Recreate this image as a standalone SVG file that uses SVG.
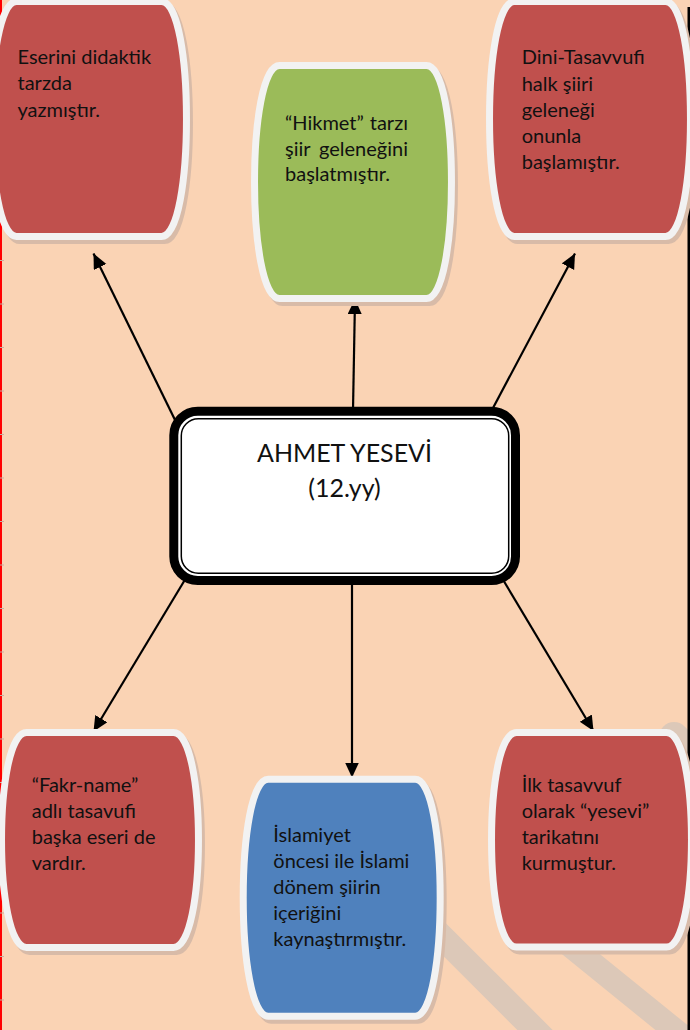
<svg xmlns="http://www.w3.org/2000/svg" width="690" height="1030" viewBox="0 0 690 1030">
  <style>
    .bg { fill: #FAD3B4; }
    .band { stroke: #DCC8B8; fill: none; stroke-linecap: round; }
    .shadow { fill: #D8BBA8; stroke: #D8BBA8; stroke-width: 7; }
    .red { fill: #C0504D; stroke: #F2F2F2; stroke-width: 7; }
    .green { fill: #9BBB59; stroke: #F2F2F2; stroke-width: 7; }
    .blue { fill: #4F81BD; stroke: #F2F2F2; stroke-width: 7; }
    .t { font-family: Lato, "Liberation Sans", "DejaVu Sans", sans-serif; font-size: 20px; fill: #111111; }
    .tc { font-family: Lato, "Liberation Sans", "DejaVu Sans", sans-serif; font-size: 25px; fill: #111111; text-anchor: middle; }
    .conn { stroke: #000000; stroke-width: 2.2; fill: none; marker-end: url(#arrow); }
  </style>
  <defs>
    <marker id="arrow" markerUnits="userSpaceOnUse" markerWidth="16" markerHeight="16" refX="15" refY="7" orient="auto">
      <path d="M0,0 L15,7 L0,14 Z" fill="#000000"/>
    </marker>
  </defs>

  <!-- background -->
  <rect class="bg" x="0" y="0" width="690" height="1030"/>
  <line class="band" x1="400" y1="895" x2="585" y2="1080" stroke-width="25"/>
  <line class="band" x1="545" y1="925" x2="730" y2="1075" stroke-width="24"/>
  <line class="band" x1="674" y1="737" x2="740" y2="803" stroke-width="30"/>
  <rect x="0" y="0" width="2" height="1030" fill="#FF0000"/>
  <line x1="2" y1="260" x2="2" y2="1030" stroke="#C8B0A0" stroke-width="4" stroke-dasharray="1 42.5"/>
  <rect x="687.5" y="7" width="2.5" height="1023" fill="#000000"/>

  <!-- connectors -->
  <g id="connectors">
    <line class="conn" x1="353" y1="410" x2="355" y2="299"/>
    <line class="conn" x1="177" y1="424" x2="93.5" y2="253.5"/>
    <line class="conn" x1="493" y1="408" x2="575" y2="253.5"/>
    <line class="conn" x1="186" y1="578" x2="93.5" y2="731.5"/>
    <line class="conn" x1="352" y1="583" x2="352" y2="777.5"/>
    <line class="conn" x1="502" y1="578" x2="593.5" y2="731"/>
  </g>

  <!-- top-left node -->
  <g id="node-didaktik">
    <path class="shadow" transform="translate(3,4)" d="M 16.5,1.5 H 161.5 C 194.8,1.5 194.8,236.5 161.5,236.5 H 16.5 C -16.8,236.5 -16.8,1.5 16.5,1.5 Z"/>
    <path class="red" d="M 16.5,1.5 H 161.5 C 194.8,1.5 194.8,236.5 161.5,236.5 H 16.5 C -16.8,236.5 -16.8,1.5 16.5,1.5 Z"/>
    <text class="t" x="17.5" y="63.5">Eserini didaktik</text>
    <text class="t" x="17.5" y="90">tarzda</text>
    <text class="t" x="17.5" y="116.5">yazmıştır.</text>
  </g>

  <!-- top-middle node -->
  <g id="node-hikmet">
    <path class="shadow" transform="translate(3,4)" d="M 279.5,65.5 H 426.5 C 459.8,65.5 459.8,298.5 426.5,298.5 H 279.5 C 246.2,298.5 246.2,65.5 279.5,65.5 Z"/>
    <path class="green" d="M 279.5,65.5 H 426.5 C 459.8,65.5 459.8,298.5 426.5,298.5 H 279.5 C 246.2,298.5 246.2,65.5 279.5,65.5 Z"/>
    <text class="t" x="285" y="129.5">“Hikmet”</text>
    <text class="t" x="408" y="129.5" text-anchor="end">tarzı</text>
    <text class="t" x="285" y="155.5">şiir</text>
    <text class="t" x="408" y="155.5" text-anchor="end">geleneğini</text>
    <text class="t" x="285" y="181">başlatmıştır.</text>
  </g>

  <!-- top-right node -->
  <g id="node-dini">
    <path class="shadow" transform="translate(3,4)" d="M 514.5,1.5 H 665.5 C 698.8,1.5 698.8,236.5 665.5,236.5 H 514.5 C 481.2,236.5 481.2,1.5 514.5,1.5 Z"/>
    <path class="red" d="M 514.5,1.5 H 665.5 C 698.8,1.5 698.8,236.5 665.5,236.5 H 514.5 C 481.2,236.5 481.2,1.5 514.5,1.5 Z"/>
    <text class="t" x="521.7" y="64.3">Dini-Tasavvufi</text>
    <text class="t" x="521.7" y="90.7">halk şiiri</text>
    <text class="t" x="521.7" y="116.7">geleneği</text>
    <text class="t" x="521.7" y="142.7">onunla</text>
    <text class="t" x="521.7" y="168.5">başlamıştır.</text>
  </g>

  <!-- center node -->
  <g id="node-center">
    <rect x="173.8" y="411.2" width="341.7" height="169.3" rx="24" fill="#FFFFFF" stroke="#000000" stroke-width="9"/>
    <rect x="181.3" y="418.7" width="327.4" height="154.6" rx="17" fill="none" stroke="#000000" stroke-width="1.5"/>
    <text class="tc" x="344.5" y="461.7">AHMET YESEVİ</text>
    <text class="tc" x="344.5" y="496.7">(12.yy)</text>
  </g>

  <!-- bottom-left node -->
  <g id="node-fakrname">
    <path class="shadow" transform="translate(3,4)" d="M 26.5,732.5 H 173.5 C 206.8,732.5 206.8,947.5 173.5,947.5 H 26.5 C -6.8,947.5 -6.8,732.5 26.5,732.5 Z"/>
    <path class="red" d="M 26.5,732.5 H 173.5 C 206.8,732.5 206.8,947.5 173.5,947.5 H 26.5 C -6.8,947.5 -6.8,732.5 26.5,732.5 Z"/>
    <text class="t" x="31.7" y="791.7">“Fakr-name”</text>
    <text class="t" x="31.7" y="818">adlı tasavufi</text>
    <text class="t" x="31.7" y="844">başka eseri de</text>
    <text class="t" x="31.7" y="870">vardır.</text>
  </g>

  <!-- bottom-middle node -->
  <g id="node-islamiyet">
    <path class="shadow" transform="translate(3,4)" d="M 268.2,779.2 H 415.2 C 448.5,779.2 448.5,1016.2 415.2,1016.2 H 268.2 C 234.9,1016.2 234.9,779.2 268.2,779.2 Z"/>
    <path class="blue" d="M 268.2,779.2 H 415.2 C 448.5,779.2 448.5,1016.2 415.2,1016.2 H 268.2 C 234.9,1016.2 234.9,779.2 268.2,779.2 Z"/>
    <text class="t" x="273.3" y="841.5">İslamiyet</text>
    <text class="t" x="273.3" y="867.5">öncesi ile İslami</text>
    <text class="t" x="273.3" y="893.5">dönem şiirin</text>
    <text class="t" x="273.3" y="919.5">içeriğini</text>
    <text class="t" x="273.3" y="945.5">kaynaştırmıştır.</text>
  </g>

  <!-- bottom-right node -->
  <g id="node-yesevi">
    <path class="shadow" transform="translate(3,4)" d="M 516.5,732.5 H 666.5 C 699.8,732.5 699.8,947 666.5,947 H 516.5 C 483.2,947 483.2,732.5 516.5,732.5 Z"/>
    <path class="red" d="M 516.5,732.5 H 666.5 C 699.8,732.5 699.8,947 666.5,947 H 516.5 C 483.2,947 483.2,732.5 516.5,732.5 Z"/>
    <text class="t" x="521.7" y="791.7">İlk tasavvuf</text>
    <text class="t" x="521.7" y="818">olarak “yesevi”</text>
    <text class="t" x="521.7" y="844">tarikatını</text>
    <text class="t" x="521.7" y="870">kurmuştur.</text>
  </g>
</svg>
